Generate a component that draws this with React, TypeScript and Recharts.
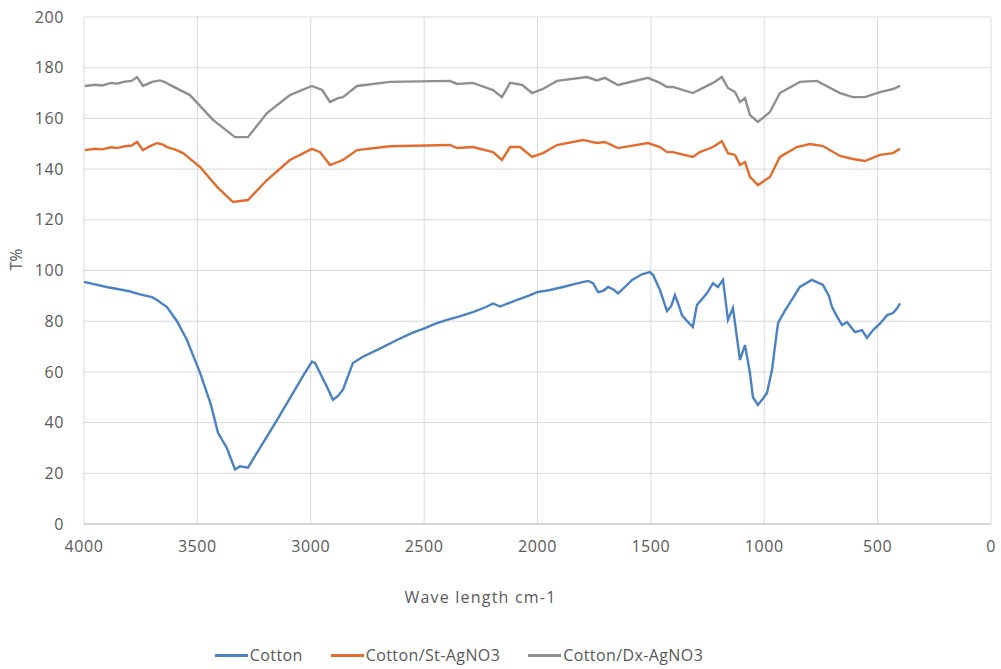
import React from "react";
import { CartesianGrid, Legend, Line, LineChart, XAxis, YAxis } from "recharts";

interface Pt {
  wn: number;
  t: number;
}

const pts = (rows: number[][]): Pt[] => rows.map(([wn, t]) => ({ wn, t }));

const xTicks = [4000, 3500, 3000, 2500, 2000, 1500, 1000, 500, 0];
const yTicks = [0, 20, 40, 60, 80, 100, 120, 140, 160, 180, 200];

const cotton = pts([
  [4000, 95.5], [3900, 93.5], [3800, 91.8], [3753, 90.6], [3700, 89.5], [3678, 88.4],
  [3634, 85.6], [3590, 80], [3546, 72.6], [3488, 59.6], [3440, 47], [3409, 36],
  [3370, 30], [3334, 21.5], [3312, 22.8], [3277, 22.2], [3238, 28], [3190, 35],
  [3149, 41], [3078, 51.7], [3030, 59], [2995, 64], [2981, 63.5], [2950, 58],
  [2928, 54], [2902, 49], [2880, 50.5], [2858, 53], [2814, 63.5], [2770, 66],
  [2700, 69], [2620, 72.6], [2550, 75.5], [2496, 77.3], [2450, 79], [2399, 80.5],
  [2340, 82], [2285, 83.6], [2230, 85.5], [2196, 87], [2165, 85.8], [2130, 87],
  [2090, 88.4], [2040, 90], [2002, 91.5], [1950, 92.2], [1887, 93.5], [1830, 94.8],
  [1777, 95.9], [1755, 95], [1733, 91.5], [1710, 92], [1689, 93.5], [1665, 92.5],
  [1645, 91], [1620, 93], [1583, 96.3], [1540, 98.5], [1504, 99.4], [1490, 98.2],
  [1460, 92.3], [1429, 84], [1410, 86], [1394, 90.3], [1380, 87], [1363, 82.4],
  [1340, 80], [1315, 77.7], [1297, 86.4], [1253, 91], [1226, 95], [1204, 93.5],
  [1182, 96.3], [1160, 80.5], [1138, 85.2], [1107, 64.7], [1085, 70.6], [1063, 59.6],
  [1050, 50], [1028, 47], [1005, 49.5], [988, 51.7], [966, 60.7], [950, 72],
  [939, 79.3], [910, 84], [887, 87.2], [843, 93.5], [790, 96.3], [741, 94.3],
  [715, 90], [701, 85.6], [680, 82], [657, 78.5], [635, 79.7], [600, 75.7],
  [569, 76.5], [547, 73.4], [520, 76.5], [490, 79], [458, 82.4], [432, 83.2],
  [415, 85], [401, 87],
]);

const stAg = pts([
  [3996, 147.5], [3950, 148], [3920, 147.8], [3880, 148.6], [3855, 148.3], [3820, 149],
  [3790, 149.3], [3766, 150.7], [3740, 147.5], [3710, 149], [3678, 150.3], [3650, 149.6],
  [3634, 148.7], [3600, 147.8], [3563, 146.3], [3488, 140.8], [3413, 133], [3343, 127],
  [3277, 127.8], [3193, 135.7], [3092, 143.6], [2995, 148], [2959, 146.7], [2915, 141.6],
  [2880, 142.8], [2858, 143.6], [2796, 147.5], [2651, 149], [2386, 149.5], [2355, 148.3],
  [2285, 148.7], [2196, 146.7], [2157, 143.6], [2121, 148.7], [2077, 148.7], [2024, 144.8],
  [1976, 146.3], [1914, 149.5], [1800, 151.5], [1738, 150.3], [1703, 150.7], [1645, 148.3],
  [1513, 150.3], [1460, 148.7], [1429, 146.7], [1403, 146.7], [1315, 144.8], [1284, 146.7],
  [1226, 148.7], [1187, 151], [1160, 146.3], [1129, 145.6], [1107, 141.6], [1085, 142.8],
  [1063, 136.9], [1028, 133.7], [975, 136.9], [931, 144.8], [856, 148.7], [799, 149.9],
  [741, 149.1], [666, 145.2], [609, 144], [556, 143.2], [490, 145.6], [432, 146.3],
  [401, 148],
]);

const dxAg = pts([
  [3996, 172.8], [3950, 173.3], [3920, 173], [3880, 174], [3855, 173.7], [3820, 174.5],
  [3790, 174.8], [3766, 176.3], [3740, 172.8], [3700, 174.4], [3665, 175], [3640, 174.2],
  [3621, 173.2], [3533, 169.2], [3431, 159.4], [3334, 152.6], [3277, 152.6],
  [3193, 162.1], [3092, 169.2], [2995, 172.8], [2950, 171.2], [2915, 166.5], [2880, 168],
  [2858, 168.4], [2796, 172.8], [2651, 174.4], [2386, 174.8], [2355, 173.6], [2285, 174],
  [2196, 171.2], [2157, 168.4], [2121, 174], [2068, 173.2], [2024, 170], [1976, 171.6],
  [1914, 174.8], [1782, 176.3], [1738, 175], [1703, 176], [1645, 173.2], [1513, 176],
  [1460, 174], [1429, 172.4], [1403, 172.4], [1315, 170], [1226, 174], [1187, 176.3],
  [1160, 172], [1129, 170.4], [1107, 166.5], [1085, 168], [1063, 161.3], [1028, 158.6],
  [975, 162.5], [931, 170], [843, 174.4], [768, 174.8], [666, 170], [609, 168.4],
  [556, 168.4], [490, 170.4], [432, 171.6], [401, 172.8],
]);

const series = [
  { name: "Cotton", data: cotton, color: "#4a82c4" },
  { name: "Cotton/St-AgNO3", data: stAg, color: "#e36c2c" },
  { name: "Cotton/Dx-AgNO3", data: dxAg, color: "#8f8f8f" },
];

const font = "'Open Sans', sans-serif";
const textColor = "#595959";
const fs = 16;

function LegendContent() {
  return (
    <div style={{ display: "flex", justifyContent: "center", gap: 28, fontFamily: font, fontSize: 16, letterSpacing: 0.4, color: textColor }}>
      {series.map((s) => (
        <span key={s.name} style={{ display: "flex", alignItems: "center" }}>
          <span style={{ display: "inline-block", width: 33, height: 3, background: s.color, marginRight: 2 }} />
          {s.name}
        </span>
      ))}
    </div>
  );
}

export default function App() {
  document.body.style.margin = "0";
  return (
    <div style={{ width: 1001, height: 669, background: "#fff" }}>
      <LineChart width={1001} height={669} margin={{ top: 17, right: 10, bottom: 10, left: 0 }}>
        <CartesianGrid stroke="#d9d9d9" strokeWidth={1} />
        <XAxis
          type="number"
          dataKey="wn"
          domain={[0, 4000]}
          reversed
          ticks={xTicks}
          interval={0}
          tickLine={false}
          tickMargin={11}
          axisLine={{ stroke: "#bfbfbf" }}
          height={100}
          tick={{ fill: textColor, fontSize: fs, fontFamily: font, letterSpacing: 0.6 }}
          label={{ value: "Wave length cm-1", position: "insideBottom", offset: 21, dx: -57, fill: textColor, fontSize: fs, fontFamily: font, letterSpacing: 1.2 }}
        />
        <YAxis
          type="number"
          domain={[0, 200]}
          ticks={yTicks}
          interval={0}
          tickLine={false}
          axisLine={false}
          tickMargin={14}
          width={84}
          tick={{ fill: textColor, fontSize: fs, fontFamily: font, letterSpacing: 0.6 }}
          label={{ value: "T%", angle: -90, position: "insideLeft", offset: 16, fill: textColor, fontSize: fs, fontFamily: font }}
        />
        <Legend verticalAlign="bottom" height={35} wrapperStyle={{ width: 918, left: 0, top: 644 }} content={<LegendContent />} />
        {series.map((s) => (
          <Line
            key={s.name}
            name={s.name}
            data={s.data}
            dataKey="t"
            type="linear"
            stroke={s.color}
            strokeWidth={2.4}
            dot={false}
            isAnimationActive={false}
          />
        ))}
      </LineChart>
    </div>
  );
}
